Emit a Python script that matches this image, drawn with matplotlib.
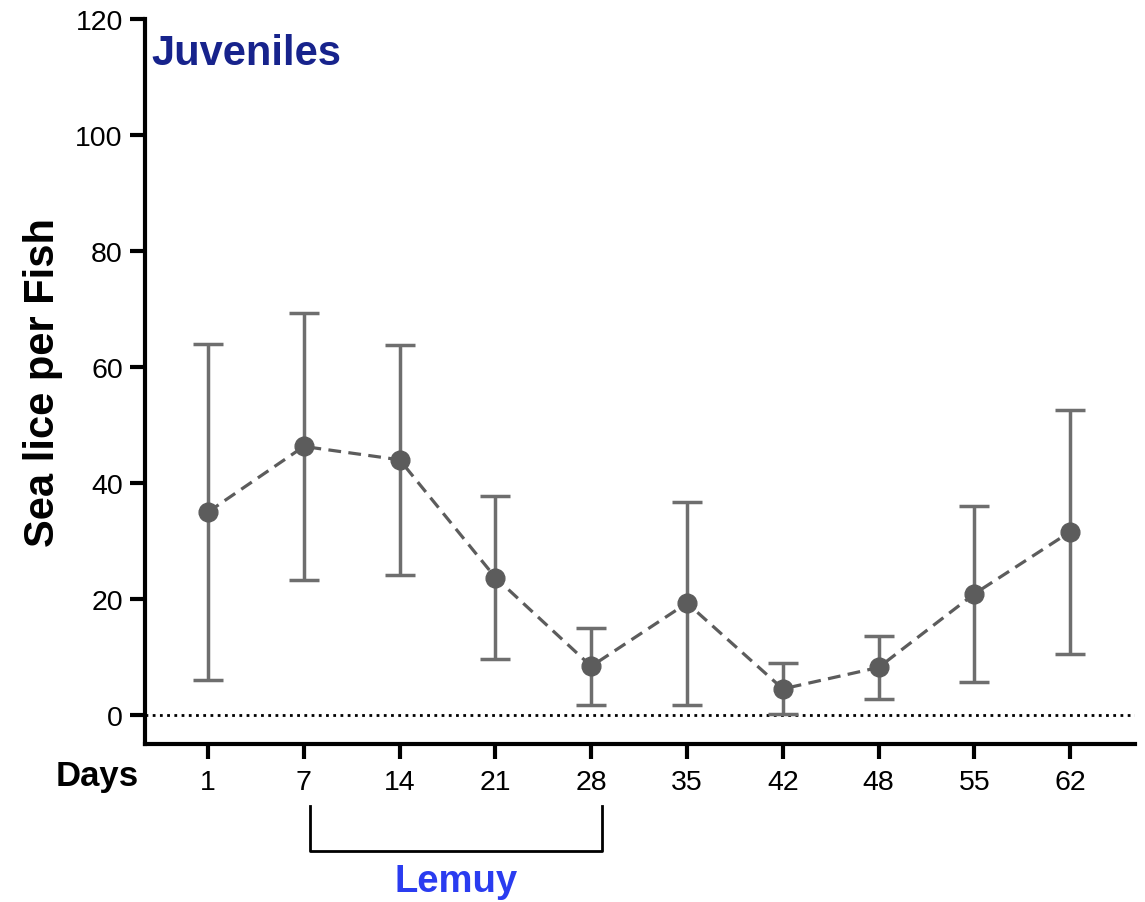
import matplotlib.pyplot as plt
import matplotlib.transforms as mtransforms

plt.rcParams['font.family'] = ['Liberation Sans', 'DejaVu Sans']

# data
days = ['1', '7', '14', '21', '28', '35', '42', '48', '55', '62']
lice_mean = [35.0, 46.3, 44.0, 23.7, 8.4, 19.3, 4.5, 8.2, 20.9, 31.6]
lice_sd = [29.0, 23.0, 19.8, 14.0, 6.6, 17.5, 4.4, 5.4, 15.2, 21.0]

x = list(range(len(days)))

fig = plt.figure(figsize=(11.45, 9.03), dpi=100)
ax = fig.add_axes([145 / 1145, 1 - 745 / 903, (1135 - 145) / 1145, (745 - 20) / 903])

# zero reference line
ax.axhline(0, color='black', lw=2, linestyle=(0, (1, 1.6)), zorder=1)

ax.errorbar(x, lice_mean, yerr=lice_sd, fmt='o', color='#5c5c5c', ecolor='#6e6e6e',
            elinewidth=2.5, capsize=10.5, capthick=2.5, markersize=13.5, zorder=3)
ax.plot(x, lice_mean, color='#5c5c5c', lw=2.3, linestyle=(0, (4, 2.3)), zorder=2)

ax.set_xlim(-0.658, 9.676)
ax.set_ylim(-5, 120)
ax.set_yticks([0, 20, 40, 60, 80, 100, 120])
ax.set_xticks(x)
ax.set_xticklabels(days)

for s in ['top', 'right']:
    ax.spines[s].set_visible(False)
ax.spines['left'].set_linewidth(3)
ax.spines['bottom'].set_linewidth(3)
ax.tick_params(axis='both', width=3, length=11, labelsize=20.5)
ax.tick_params(axis='y', pad=5)
ax.tick_params(axis='x', pad=7)

ax.set_ylabel('Sea lice per Fish', fontsize=30, fontweight='bold', labelpad=9)

ax.text(0.006, 0.981, 'Juveniles', transform=ax.transAxes, fontsize=30,
        fontweight='bold', color='#17238c', ha='left', va='top')

trans = mtransforms.blended_transform_factory(ax.transData, ax.transAxes)
ax.text(-1.16, -0.044, 'Days', transform=trans, fontsize=25, fontweight='bold',
        ha='center', va='center')

# bracket under days 7-28
bx0, bx1 = 1.065, 4.11
ax.plot([bx0, bx0, bx1, bx1], [-0.0855, -0.1476, -0.1476, -0.0855], color='black',
        lw=2, transform=trans, clip_on=False)
ax.text(2.59, -0.189, 'Lemuy', transform=trans, fontsize=27.5, fontweight='bold',
        color='#2a3cf0', ha='center', va='center')

fig.savefig('out.png', dpi=100)
